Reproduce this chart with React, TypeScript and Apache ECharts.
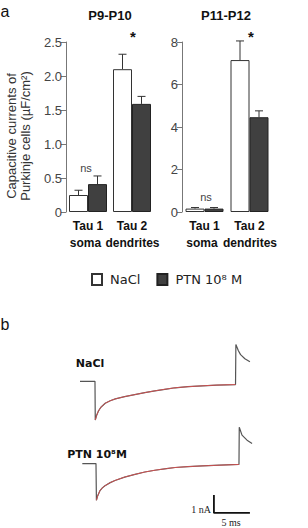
import React, { useEffect, useRef } from 'react';
import * as echarts from 'echarts';

// Capacitive currents (µF/cm²), mean and SEM, per compartment
const categories = ['Tau 1\nsoma', 'Tau 2\ndendrites'];
const p9NaCl = [0.25, 2.1];
const p9NaClSem = [0.07, 0.22];
const p9Ptn = [0.41, 1.59];
const p9PtnSem = [0.12, 0.11];
const p11NaCl = [0.16, 7.15];
const p11NaClSem = [0.05, 0.9];
const p11Ptn = [0.16, 4.46];
const p11PtnSem = [0.05, 0.3];

// Axis ranges
const p9Axis = { min: 0, max: 2.5, interval: 0.5 };
const p11Axis = { min: 0, max: 8, interval: 2 };

// Example recordings: [time (ms), current relative to holding level (nA)]
const naclTrace: number[][] = [
  [0, 0], [2.08, 0], [2.12, -2.15], [2.3, -1.9], [2.55, -1.66], [2.9, -1.44],
  [3.5, -1.22], [4.2, -1.08], [4.9, -0.98], [6.2, -0.85], [7.6, -0.74],
  [9.0, -0.63], [10.4, -0.53], [12.0, -0.43], [13.2, -0.36], [15.0, -0.3],
  [17.0, -0.25], [19.0, -0.21], [21.6, -0.18], [21.65, 2.04], [22.0, 1.7],
  [22.3, 1.48], [22.9, 1.25], [23.6, 1.08],
];
const ptnTrace: number[][] = [
  [0.32, 0], [2.22, 0], [2.28, -2.04], [2.45, -1.8], [2.78, -1.5], [3.1, -1.35],
  [3.47, -1.23], [4.2, -1.06], [4.86, -0.94], [6.2, -0.75], [7.64, -0.6],
  [9.0, -0.47], [10.4, -0.37], [12.0, -0.28], [13.2, -0.22], [15.0, -0.17],
  [17.0, -0.13], [19.4, -0.09], [22.08, -0.05], [22.12, 2.02], [22.5, 1.58],
  [23.2, 1.3], [23.9, 1.12],
];
const scaleBarCurrent = 1; // nA
const scaleBarTime = 5; // ms

const NARROW = "'Liberation Sans Narrow', 'Liberation Sans', Arial, sans-serif";
const SANS = "'Liberation Sans', Arial, sans-serif";
const VERDANA = "'DejaVu Sans', Verdana, sans-serif";
const BAR_W = 19;
const WHITE_BAR = { color: '#ffffff', borderColor: '#333333', borderWidth: 1 };
const DARK_BAR = { color: '#404040', borderColor: '#222222', borderWidth: 1 };

// vertical offsets of the two stacked traces inside the trace panel (nA)
const NACL_OFFSET = -2.85;
const PTN_OFFSET = -7.42;
const SCALE_CORNER = [18.6, -10.16];

function shift(pts: number[][], dy: number) {
  return pts.map(([t, v]) => [t, v + dy]);
}

// decay phase: from the peak inward current to the end of the step
function decayPhase(pts: number[][]) {
  let iMin = 0;
  let iMax = 0;
  pts.forEach((p, i) => {
    if (p[1] < pts[iMin][1]) iMin = i;
    if (p[1] > pts[iMax][1]) iMax = i;
  });
  return pts.slice(iMin, iMax);
}

function errorSeries(axisIdx: number, means: number[], sems: number[], dx: number) {
  return {
    type: 'custom',
    xAxisIndex: axisIdx,
    yAxisIndex: axisIdx,
    data: means.map((m, i) => [i, m, m + sems[i]]),
    encode: { x: 0, y: [1, 2] },
    z: 1,
    renderItem: (_params: any, api: any) => {
      const base = api.coord([api.value(0), api.value(1)]);
      const top = api.coord([api.value(0), api.value(2)]);
      const x = base[0] + dx;
      return {
        type: 'group',
        children: [
          { type: 'line', shape: { x1: x, y1: base[1], x2: x, y2: top[1] }, style: { stroke: '#333', lineWidth: 1 } },
          { type: 'line', shape: { x1: x - 4, y1: top[1], x2: x + 4, y2: top[1] }, style: { stroke: '#333', lineWidth: 1 } },
        ],
      };
    },
  };
}

function valueAxis(idx: number, range: { min: number; max: number; interval: number }, fmt: (v: number) => string) {
  return {
    type: 'value',
    gridIndex: idx,
    min: range.min,
    max: range.max,
    interval: range.interval,
    axisLine: { show: true, lineStyle: { color: '#777', width: 1 } },
    axisTick: { show: true, length: 5, lineStyle: { color: '#777' } },
    splitLine: { show: false },
    axisLabel: { color: '#444', fontSize: 13, fontFamily: SANS, margin: 4, formatter: fmt },
  };
}

const catFont = { color: '#111', fontSize: 12, fontWeight: 'bold', fontFamily: NARROW, lineHeight: 17 };

function categoryAxis(idx: number) {
  return {
    type: 'category',
    gridIndex: idx,
    data: categories,
    axisLine: { show: false },
    axisTick: { show: false },
    axisLabel: {
      interval: 0,
      hideOverlap: false,
      ...catFont,
      margin: 5,
      // second line: compartment name, nudged apart so the two read as one phrase
      formatter: (value: string, i: number) => {
        const [tau, part] = value.split('\n');
        return `{t|${tau}}\n{${i === 0 ? 'l' : 'r'}|${part}}`;
      },
      rich: {
        t: { ...catFont },
        l: { ...catFont, padding: [0, 5, 0, 0] },
        r: { ...catFont, padding: [0, 0, 0, 1] },
      },
    },
  };
}

function txt(x: number, y: number, text: string, style: any, extra: any = {}) {
  return {
    type: 'text',
    x,
    y,
    ...extra,
    style: { text, align: 'center', verticalAlign: 'middle', fill: '#111', ...style },
  };
}

export default function App() {
  const ref = useRef<HTMLDivElement>(null);

  useEffect(() => {
    if (!ref.current) return;
    const chart = echarts.init(ref.current, null, { renderer: 'svg' });

    const traceLine = (data: number[][], color: string, width: number, z: number) => ({
      type: 'line',
      xAxisIndex: 2,
      yAxisIndex: 2,
      data,
      showSymbol: false,
      symbol: 'none',
      lineStyle: { color, width },
      z,
      silent: true,
    });

    const scaleBar = [
      [SCALE_CORNER[0], SCALE_CORNER[1] + scaleBarCurrent],
      [SCALE_CORNER[0], SCALE_CORNER[1]],
      [SCALE_CORNER[0] + scaleBarTime, SCALE_CORNER[1]],
    ];

    chart.setOption({
      animation: false,
      backgroundColor: '#ffffff',
      grid: [
        { left: 66, top: 42, width: 88, height: 170 },
        { left: 182, top: 42, width: 90, height: 170 },
        { left: 80, top: 330, width: 180, height: 203.5 },
      ],
      xAxis: [
        categoryAxis(0),
        categoryAxis(1),
        { type: 'value', gridIndex: 2, min: 0, max: 25, show: false },
      ],
      yAxis: [
        valueAxis(0, p9Axis, (v: number) => (v === 0 ? '0' : v.toFixed(1))),
        valueAxis(1, p11Axis, (v: number) => String(v)),
        { type: 'value', gridIndex: 2, min: -11, max: 0, show: false },
      ],
      legend: {
        data: ['NaCl', 'PTN 10⁸ M'],
        left: 91,
        top: 273,
        padding: 0,
        icon: 'rect',
        itemWidth: 10,
        itemHeight: 11,
        itemGap: 16,
        textStyle: { fontSize: 13, fontFamily: VERDANA, color: '#222', padding: [0, 0, 0, 3] },
      },
      series: [
        { type: 'bar', name: 'NaCl', xAxisIndex: 0, yAxisIndex: 0, data: p9NaCl, barWidth: BAR_W, barGap: '0%', itemStyle: WHITE_BAR, z: 2 },
        { type: 'bar', name: 'PTN 10⁸ M', xAxisIndex: 0, yAxisIndex: 0, data: p9Ptn, barWidth: BAR_W, barGap: '0%', itemStyle: DARK_BAR, z: 2 },
        { type: 'bar', name: 'NaCl', xAxisIndex: 1, yAxisIndex: 1, data: p11NaCl, barWidth: BAR_W, barGap: '0%', itemStyle: WHITE_BAR, z: 2 },
        { type: 'bar', name: 'PTN 10⁸ M', xAxisIndex: 1, yAxisIndex: 1, data: p11Ptn, barWidth: BAR_W, barGap: '0%', itemStyle: DARK_BAR, z: 2 },
        errorSeries(0, p9NaCl, p9NaClSem, -BAR_W / 2),
        errorSeries(0, p9Ptn, p9PtnSem, BAR_W / 2),
        errorSeries(1, p11NaCl, p11NaClSem, -BAR_W / 2),
        errorSeries(1, p11Ptn, p11PtnSem, BAR_W / 2),
        traceLine(shift(naclTrace, NACL_OFFSET), '#555', 1.2, 3),
        traceLine(shift(decayPhase(naclTrace), NACL_OFFSET), 'rgba(222,80,80,0.85)', 1, 4),
        traceLine(shift(ptnTrace, PTN_OFFSET), '#555', 1.2, 3),
        traceLine(shift(decayPhase(ptnTrace), PTN_OFFSET), 'rgba(222,80,80,0.85)', 1, 4),
        traceLine(scaleBar, '#111', 1.8, 3),
      ],
      graphic: [
        txt(5, 11, 'a', { fontSize: 16, fontFamily: SANS }),
        txt(5, 324, 'b', { fontSize: 16, fontFamily: SANS }),
        txt(110, 15, 'P9-P10', { fontSize: 13, fontWeight: 'bold', fontFamily: NARROW }),
        txt(226, 15, 'P11-P12', { fontSize: 13, fontWeight: 'bold', fontFamily: NARROW }),
        txt(133, 36, '*', { fontSize: 15, fontWeight: 'bold', fontFamily: SANS }),
        txt(251, 36, '*', { fontSize: 15, fontWeight: 'bold', fontFamily: SANS }),
        txt(86, 168, 'ns', { fontSize: 11, fontFamily: SANS, fill: '#444' }),
        txt(206, 197, 'ns', { fontSize: 11, fontFamily: SANS, fill: '#444' }),
        txt(11, 136, 'Capacitive currents of', { fontSize: 13, fontFamily: SANS, fill: '#333' }, { rotation: Math.PI / 2 }),
        txt(25, 136, 'Purkinje cells (µF/cm²)', { fontSize: 13, fontFamily: SANS, fill: '#333' }, { rotation: Math.PI / 2 }),
        txt(90, 363, 'NaCl', { fontSize: 11, fontWeight: 'bold', fontFamily: VERDANA }),
        txt(97, 454, 'PTN 10⁸M', { fontSize: 11, fontWeight: 'bold', fontFamily: VERDANA }),
        txt(201, 509, '1 nA', { fontSize: 10, fontFamily: "'Liberation Serif', serif", fill: '#222' }),
        txt(231, 522, '5 ms', { fontSize: 10, fontFamily: "'Liberation Serif', serif", fill: '#222' }),
      ],
    });

    return () => chart.dispose();
  }, []);

  return (
    <div
      ref={ref}
      style={{ position: 'fixed', left: 0, top: 0, width: 308, height: 528, background: '#fff' }}
    />
  );
}
